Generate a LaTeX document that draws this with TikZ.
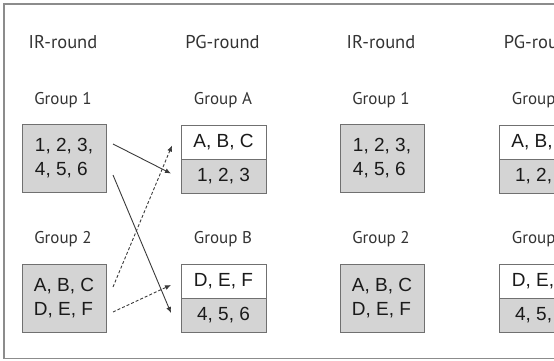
\documentclass[tikz,border=0pt]{standalone}
\usepackage{fontspec}
\usetikzlibrary{arrows.meta}
\newfontfamily\boxfont{Liberation Sans}
\newfontfamily\labfont{PT Sans}
\definecolor{framec}{HTML}{8C8C8C}
\definecolor{boxline}{HTML}{707070}
\definecolor{boxfill}{HTML}{D4D4D4}
\definecolor{labtext}{HTML}{333333}
\definecolor{boxtext}{HTML}{1A1A1A}
\definecolor{arrc}{HTML}{3A3A3A}
\tikzset{
  gbox/.style={draw=boxline, fill=boxfill, line width=1pt, minimum width=84pt, minimum height=68pt, inner sep=0pt, align=left, text=boxtext, font={\boxfont\fontsize{19}{23.5}\selectfont}},
  wcell/.style={draw=boxline, fill=white, line width=1pt, minimum width=85pt, minimum height=34pt, inner sep=0pt, text=boxtext, font={\boxfont\fontsize{19}{22}\selectfont}},
  gcell/.style={wcell, fill=boxfill},
  hlab/.style={anchor=base, text=labtext, font={\labfont\fontsize{18.5}{22}\selectfont}},
  glab/.style={anchor=base, text=labtext, font={\labfont\fontsize{17}{20}\selectfont}},
  arr/.style={-{Latex[length=6pt,width=5pt]}, line width=0.9pt, draw=arrc},
  darr/.style={arr, dash pattern=on 3pt off 2pt}
}
\begin{document}
\begin{tikzpicture}[x=1pt,y=-1pt]
\clip (0,0) rectangle (554,361);
% frame
\draw[framec, line width=1.6pt] (600,3.8) -- (3.8,3.8) -- (3.8,358.5) -- (600,358.5);
% headers
\node[hlab] (h1) at (63,48.3) {IR-round};
\node[hlab] (h2) at (222.5,48.3) {PG-round};
\node[hlab] (h3) at (381,48.3) {IR-round};
\node[hlab] (h4) at (541,48.3) {PG-round};
% group labels
\node[glab] (l1) at (63,104) {Group 1};
\node[glab] (l2) at (223,104) {Group A};
\node[glab] (l3) at (381,104) {Group 1};
\node[glab] (l4) at (541,104) {Group A};
\node[glab] (l5) at (63,243.5) {Group 2};
\node[glab] (l6) at (223,243.5) {Group B};
\node[glab] (l7) at (381,243.5) {Group 2};
\node[glab] (l8) at (541,243.5) {Group B};
% IR boxes
\node[gbox] (g1) at (64,158) {1, 2, 3,\\4, 5, 6};
\node[gbox] (g2) at (64,298) {A, B, C\\D, E, F};
\node[gbox] (g3) at (382,158) {1, 2, 3,\\4, 5, 6};
\node[gbox] (g4) at (382,298) {A, B, C\\D, E, F};
% PG boxes
\node[wcell] (aT) at (223.5,142) {A, B, C};
\node[gcell] (aB) at (223.5,176) {1, 2, 3};
\node[wcell] (bT) at (223.5,281) {D, E, F};
\node[gcell] (bB) at (223.5,315) {4, 5, 6};
\node[wcell] (cT) at (541.5,142) {A, B, C};
\node[gcell] (cB) at (541.5,176) {1, 2, 3};
\node[wcell] (dT) at (541.5,281) {D, E, F};
\node[gcell] (dB) at (541.5,315) {4, 5, 6};
% arrow ends
\coordinate (s1a) at (113,144);
\coordinate (s1b) at (171,173.5);
\coordinate (s2a) at (113,175);
\coordinate (s2b) at (171,313);
\coordinate (d1a) at (113,287);
\coordinate (d1b) at (172,145.5);
\coordinate (d2a) at (113,312);
\coordinate (d2b) at (171,285);
\draw[arr] (s1a) -- (s1b);
\draw[arr] (s2a) -- (s2b);
\draw[darr] (d1a) -- (d1b);
\draw[darr] (d2a) -- (d2b);
\end{tikzpicture}
\end{document}
